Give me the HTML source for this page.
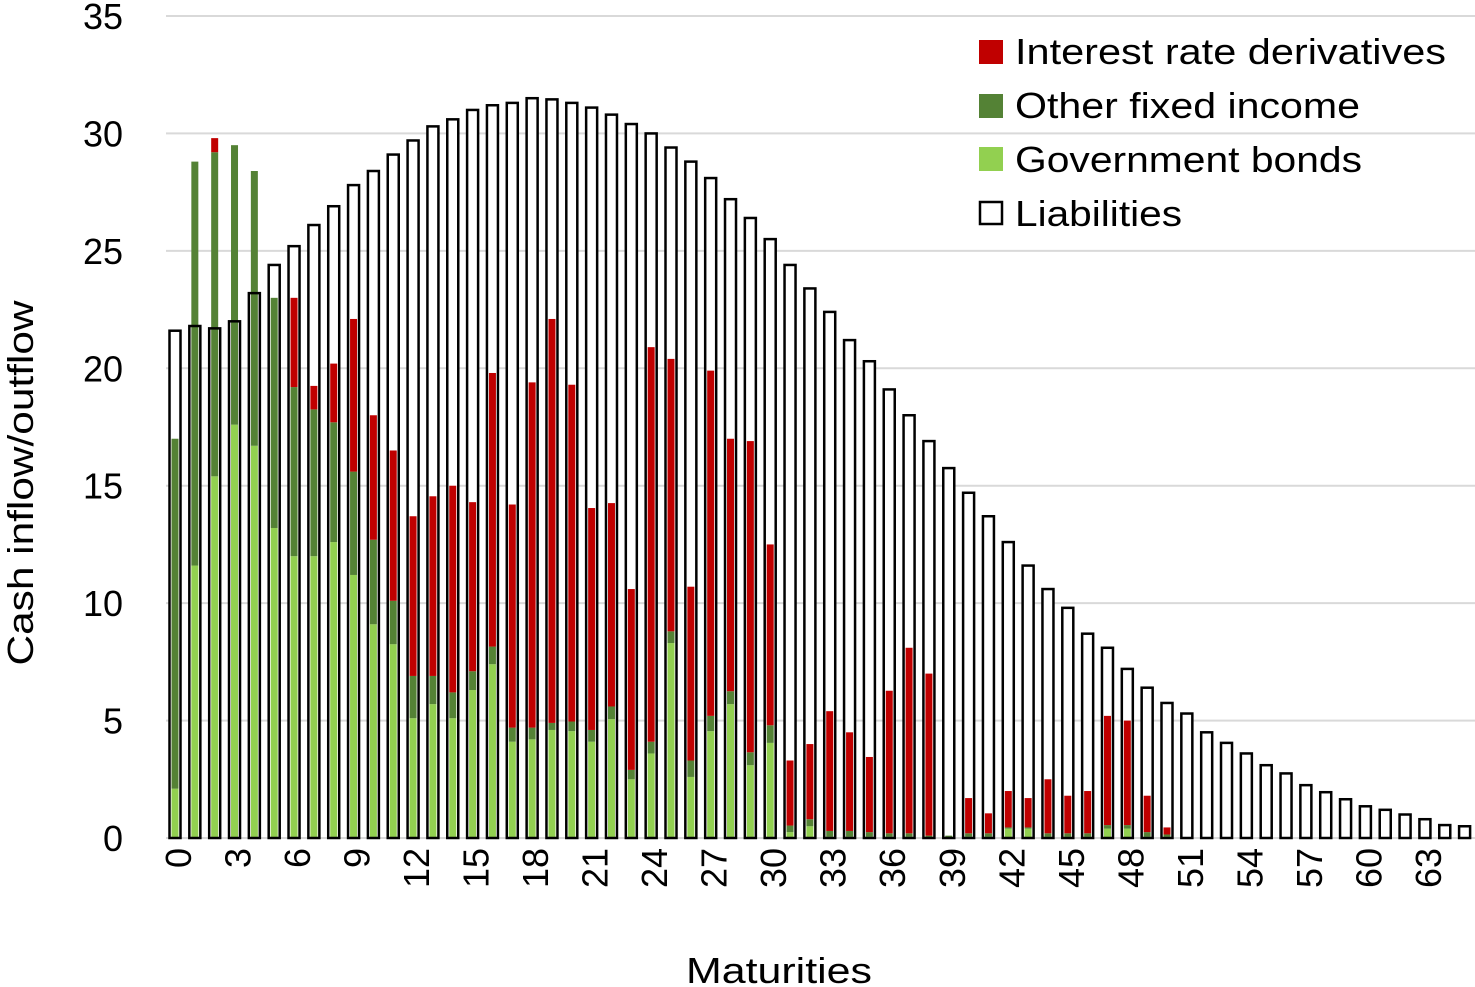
<!DOCTYPE html>
<html><head><meta charset="utf-8"><style>
html,body{margin:0;padding:0;background:#fff;}
svg{display:block;font-family:"Liberation Sans",sans-serif;}
</style></head><body>
<svg id="chart" width="1475" height="987" viewBox="0 0 1475 987" xmlns="http://www.w3.org/2000/svg">
<g id="grid"></g>
<g id="yticks"></g>
<g id="xticks"></g>
<g id="liabFill"></g>
<g id="assets"></g>
<g id="liabLine"></g>
<text x="779" y="983" font-size="36" text-anchor="middle" textLength="186" lengthAdjust="spacingAndGlyphs">Maturities</text>
<text transform="translate(33,483) rotate(-90)" font-size="36" text-anchor="middle" textLength="365" lengthAdjust="spacingAndGlyphs">Cash inflow/outflow</text>
<g>
  <rect x="979" y="40" width="24" height="24" fill="#c00000"/>
  <text x="1015" y="64" font-size="36" textLength="431" lengthAdjust="spacingAndGlyphs">Interest rate derivatives</text>
  <rect x="979" y="94" width="24" height="24" fill="#548235"/>
  <text x="1015" y="118" font-size="36" textLength="345" lengthAdjust="spacingAndGlyphs">Other fixed income</text>
  <rect x="979" y="147" width="24" height="24" fill="#92d050"/>
  <text x="1015" y="172" font-size="36" textLength="347" lengthAdjust="spacingAndGlyphs">Government bonds</text>
  <rect x="980" y="202" width="22" height="22" fill="#fff" stroke="#000" stroke-width="2.5"/>
  <text x="1015" y="226" font-size="36" textLength="167" lengthAdjust="spacingAndGlyphs">Liabilities</text>
</g>
</svg>
<script>
const categories = Array.from({length:66},(_, i)=>String(i));
const liabilities = [21.6,21.8,21.7,22.0,23.2,24.4,25.2,26.1,26.9,27.8,28.4,29.1,29.7,30.3,30.6,31.0,31.2,31.3,31.5,31.45,31.3,31.1,30.8,30.4,30.0,29.4,28.8,28.1,27.2,26.4,25.5,24.4,23.4,22.4,21.2,20.3,19.1,18.0,16.9,15.75,14.7,13.7,12.6,11.6,10.6,9.8,8.7,8.1,7.2,6.4,5.75,5.3,4.5,4.05,3.6,3.1,2.75,2.25,1.95,1.65,1.35,1.2,1.0,0.8,0.55,0.5];
const govBonds = [2.1,11.6,15.4,17.6,16.7,13.2,12.0,12.0,12.6,11.2,9.1,8.25,5.1,5.7,5.1,6.3,7.4,4.1,4.2,4.6,4.55,4.1,5.06,2.5,3.6,8.3,2.6,4.55,5.7,3.1,4.05,0.25,0.5,0.05,0.05,0.05,0.05,0.05,0.02,0.02,0.05,0.05,0.4,0.4,0.05,0.05,0.05,0.4,0.4,0.05,0.05,0,0,0,0,0,0,0,0,0,0,0,0,0,0,0];
const otherFixed = [14.9,17.2,13.8,11.9,11.7,9.8,7.2,6.25,5.1,4.4,3.6,1.85,1.8,1.2,1.1,0.8,0.75,0.6,0.5,0.3,0.41,0.5,0.54,0.4,0.5,0.5,0.7,0.65,0.55,0.55,0.75,0.28,0.3,0.25,0.25,0.2,0.15,0.15,0.08,0.08,0.15,0.15,0.05,0.05,0.15,0.15,0.15,0.15,0.15,0.2,0.1,0,0,0,0,0,0,0,0,0,0,0,0,0,0,0];
const derivatives = [0,0,0.6,0,0,0,3.8,1.0,2.5,6.5,5.3,6.4,6.8,7.65,8.8,7.2,11.65,9.5,14.7,17.2,14.34,9.45,8.66,7.7,16.8,11.6,7.4,14.7,10.75,13.25,7.7,2.77,3.2,5.1,4.2,3.2,6.07,7.9,6.9,0,1.5,0.85,1.55,1.25,2.3,1.6,1.8,4.65,4.45,1.55,0.3,0,0,0,0,0,0,0,0,0,0,0,0,0,0,0];
const yTicks = [0,5,10,15,20,25,30,35];
const xTickEvery = 3;

const NS='http://www.w3.org/2000/svg';
const y0=838, yTop=16, yMax=35, x0=175, step=19.84;
const yScale=v=>y0-(v/yMax)*(y0-yTop);
const xScale=i=>x0+i*step;
function mk(tag,attrs,parent){const e=document.createElementNS(NS,tag);for(const k in attrs)e.setAttribute(k,attrs[k]);parent.appendChild(e);return e;}
const grid=document.getElementById('grid'), yt=document.getElementById('yticks'), xt=document.getElementById('xticks');
yTicks.forEach(t=>{
  const l=mk('line',{x1:166,x2:1475,y1:yScale(t),y2:yScale(t),stroke:'#d9d9d9','stroke-width':2},grid);
  
  
  const tx=mk('text',{x:123,y:yScale(t)+13,'font-size':36,'text-anchor':'end'},yt);
  tx.textContent=String(t);
  
  
});
categories.forEach((c,i)=>{
  if(i%xTickEvery!==0)return;
  const cx=xScale(i)+3;
  const tx=mk('text',{transform:`translate(${cx+13},848) rotate(-90)`,'font-size':36,'text-anchor':'end'},xt);
  tx.textContent=c;
  
  
});
const lf=document.getElementById('liabFill'), as=document.getElementById('assets'), ll=document.getElementById('liabLine');
const lw=11, aw=7;
categories.forEach((c,i)=>{
  const cx=xScale(i);
  const top=yScale(liabilities[i]);
  const f=mk('rect',{x:cx-lw/2,y:top,width:lw,height:y0-top,fill:'#fff'},lf);
  
  
  let base=0;
  [[govBonds,'#92d050','gov'],[otherFixed,'#548235','other'],[derivatives,'#c00000','deriv']].forEach(([arr,col,nm])=>{
    const v=arr[i]; if(v<=0)return;
    const yb=yScale(base), yt2=yScale(base+v);
    const r=mk('rect',{x:cx-aw/2,y:yt2,width:aw,height:yb-yt2,fill:col},as);
    
    
    base+=v;
  });
  const o=mk('rect',{x:cx-lw/2,y:top,width:lw,height:y0-top,fill:'none',stroke:'#000','stroke-width':2.5},ll);
  
  
});
</script>
</body></html>
